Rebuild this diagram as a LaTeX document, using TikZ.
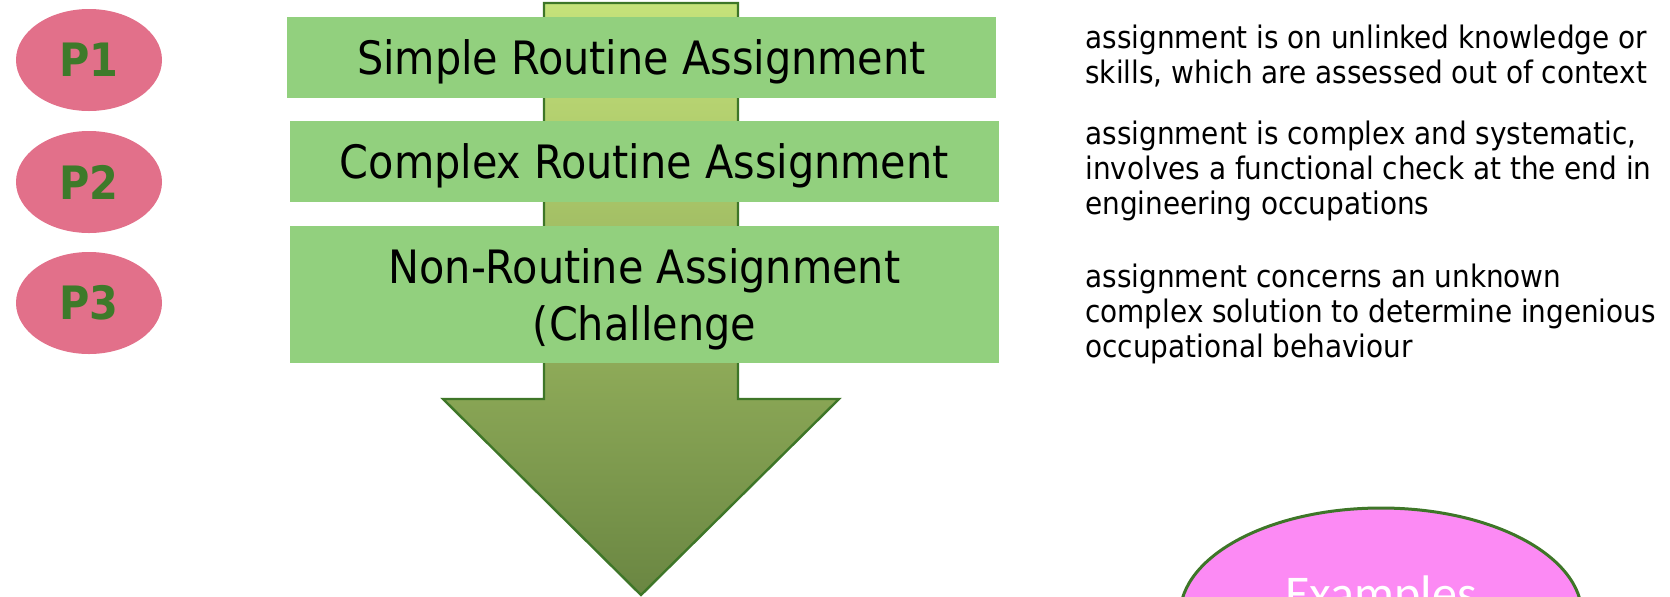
\documentclass[tikz,border=0pt]{standalone}
\usepackage{fontspec}
\setmainfont{DejaVu Sans Condensed}
\newfontfamily\exfont{Carlito}
\usepackage{tikz}
\usetikzlibrary{shapes.geometric}
\definecolor{pfill}{RGB}{226,112,138}
\definecolor{ptext}{RGB}{62,122,42}
\definecolor{boxgreen}{RGB}{146,208,126}
\definecolor{arrowtop}{RGB}{197,226,122}
\definecolor{arrowbot}{RGB}{106,134,66}
\definecolor{edgegreen}{RGB}{62,118,40}
\definecolor{exfill}{RGB}{252,138,244}
\tikzset{
    level/.style={ellipse, fill=pfill, minimum width=73pt, minimum height=51pt,
        inner sep=0pt, text=ptext, font=\fontsize{23}{27}\selectfont\bfseries},
    stage/.style={rectangle, fill=boxgreen, minimum width=354.5pt, inner sep=0pt,
        text depth=0pt, align=center, font=\fontsize{23}{28.5}\selectfont},
    note/.style={anchor=base west, inner sep=0pt, align=left,
        font=\fontsize{15.5}{17.5}\selectfont},
    bubble/.style={ellipse, fill=exfill, draw=edgegreen, line width=1.5pt,
        minimum width=201pt, minimum height=107pt, inner sep=0pt}
}

\begin{document}
\begin{tikzpicture}[x=0.5pt,y=-0.5pt]
		\useasboundingbox (0,0) rectangle (1670,596);

		% big arrow
		\coordinate (shaftL) at (544,3);
		\coordinate (shaftR) at (738,3);
		\coordinate (headL) at (443,399);
		\coordinate (headR) at (839,399);
		\coordinate (tip) at (641,595);
		\shade[top color=arrowtop, bottom color=arrowbot] (shaftL) -- (shaftR)
         -- (738,399) -- (headR) -- (tip) -- (headL) -- (544,399) -- cycle;
		\draw[edgegreen, line width=1.2pt, line join=miter] (shaftL) -- (shaftR)
         -- (738,399) -- (headR) -- (tip) -- (headL) -- (544,399) -- cycle;

		% levels
		\node[level] (p1) at (89,60) {P1};
		\node[level] (p2) at (89,182) {P2};
		\node[level] (p3) at (89,303) {P3};

		% assignments
		\node[stage, minimum height=40.5pt] (simple) at (641.5,57.5) {Simple Routine Assignment};
		\node[stage, minimum height=40.5pt] (complex) at (644.5,161.5) {Complex Routine Assignment};
		\node[stage, minimum height=68.5pt] (nonroutine) at (644.5,294.5) {Non-Routine Assignment\\(Challenge};

		% descriptions (anchored at the last line)
		\node[note] (d1) at (1085,83) {assignment is on unlinked knowledge or\\skills, which are assessed out of context};
		\node[note] (d2) at (1085,214) {assignment is complex and systematic,\\involves a functional check at the end in\\engineering occupations};
		\node[note] (d3) at (1085,357) {assignment concerns an unknown\\complex solution to determine ingenious\\occupational behaviour};

		\node[bubble] (examples) at (1381,615) {};
		\node[anchor=base, inner sep=0pt, text=white, font=\exfont\fontsize{25}{30}\selectfont] (extext) at (1381,610) {Examples};
\end{tikzpicture}
\end{document}
